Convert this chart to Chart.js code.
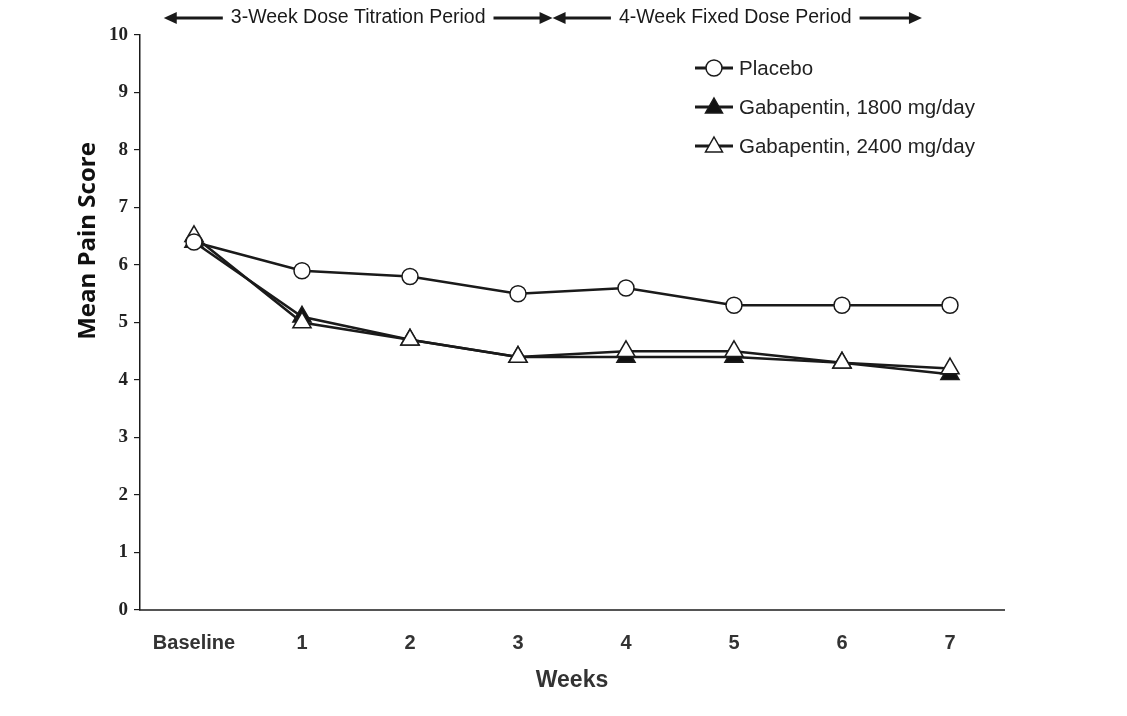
<!DOCTYPE html>
<html>
<head>
<meta charset="utf-8">
<script src="https://cdn.jsdelivr.net/npm/chart.js@4.4.1/dist/chart.umd.min.js"></script>
<style>
html,body{margin:0;padding:0;background:#fff;}
#wrap{width:1127px;height:716px;position:relative;}
</style>
</head>
<body>
<div id="wrap"><canvas id="c" width="1127" height="716"></canvas></div>
<script>
const categories = ["Baseline", "1", "2", "3", "4", "5", "6", "7"];
const placebo = [6.4, 5.9, 5.8, 5.5, 5.6, 5.3, 5.3, 5.3];
const gaba1800 = [6.4, 5.1, 4.7, 4.4, 4.4, 4.4, 4.3, 4.1];
const gaba2400 = [6.5, 5.0, 4.7, 4.4, 4.5, 4.5, 4.3, 4.2];
const seriesNames = ["Placebo", "Gabapentin, 1800 mg/day", "Gabapentin, 2400 mg/day"];
const yTicks = [0, 1, 2, 3, 4, 5, 6, 7, 8, 9, 10];
const periodLabels = ["3-Week Dose Titration Period", "4-Week Fixed Dose Period"];

const INK = '#1a1a1a';

function arrowHead(ctx, x, y, dir) {
  ctx.beginPath();
  ctx.moveTo(x, y);
  ctx.lineTo(x - dir * 13, y - 6);
  ctx.lineTo(x - dir * 13, y + 6);
  ctx.closePath();
  ctx.fill();
}
function dblArrowSeg(ctx, x1, x2, y, tx1, tx2) {
  ctx.lineWidth = 3;
  ctx.beginPath(); ctx.moveTo(x1 + 8, y); ctx.lineTo(tx1, y); ctx.stroke();
  ctx.beginPath(); ctx.moveTo(tx2, y); ctx.lineTo(x2 - 8, y); ctx.stroke();
  arrowHead(ctx, x1, y, -1);
  arrowHead(ctx, x2, y, 1);
}

const decor = {
  id: 'decor',
  afterDraw(chart) {
    const ctx = chart.ctx;
    const xs = chart.scales.x;
    const step = xs.getPixelForValue(1) - xs.getPixelForValue(0);
    ctx.save();
    ctx.fillStyle = INK; ctx.strokeStyle = INK;
    // period header
    const yH = 18;
    const a0 = xs.getPixelForValue(0) - step * 0.28;
    const a1 = xs.getPixelForValue(3) + step * 0.32;
    const a2 = xs.getPixelForValue(7) - step * 0.26;
    ctx.font = '19.5px "Liberation Sans", Arial, sans-serif';
    ctx.textBaseline = 'middle'; ctx.textAlign = 'center';
    const c1 = (a0 + a1) / 2, c2 = (a1 + a2) / 2 - 2;
    const w1 = ctx.measureText(periodLabels[0]).width;
    const w2 = ctx.measureText(periodLabels[1]).width;
    ctx.fillText(periodLabels[0], c1, yH);
    ctx.fillText(periodLabels[1], c2, yH);
    dblArrowSeg(ctx, a0, a1, yH, c1 - w1 / 2 - 8, c1 + w1 / 2 + 8);
    dblArrowSeg(ctx, a1, a2, yH, c2 - w2 / 2 - 8, c2 + w2 / 2 + 8);

    // y title
    ctx.save();
    ctx.translate(88, 241);
    ctx.rotate(-Math.PI / 2);
    ctx.font = 'bold 24px "Open Sans", "Liberation Sans", sans-serif';
    ctx.textAlign = 'center'; ctx.textBaseline = 'middle';
    ctx.fillStyle = '#111';
    ctx.fillText('Mean Pain Score', 0, 0);
    ctx.restore();

    // legend
    const lx = 695, lw = 38, rows = [68, 107, 146];
    chart.data.datasets.forEach((ds, i) => {
      const y = rows[i];
      ctx.lineWidth = 3; ctx.strokeStyle = INK;
      ctx.beginPath(); ctx.moveTo(lx, y); ctx.lineTo(lx + lw, y); ctx.stroke();
      const cx = lx + lw / 2;
      ctx.lineWidth = 1.5;
      ctx.fillStyle = ds.pointBackgroundColor;
      ctx.beginPath();
      if (ds.pointStyle === 'circle') {
        ctx.arc(cx, y, 8, 0, Math.PI * 2);
      } else {
        ctx.moveTo(cx, y - 9); ctx.lineTo(cx + 8.5, y + 6); ctx.lineTo(cx - 8.5, y + 6); ctx.closePath();
      }
      ctx.fill(); ctx.stroke();
      ctx.fillStyle = '#222';
      ctx.font = '20.5px "Liberation Sans", Arial, sans-serif';
      ctx.textAlign = 'left'; ctx.textBaseline = 'middle';
      ctx.fillText(ds.label, lx + lw + 6, y + 1);
    });
    ctx.restore();
  }
};

const mk = (label, data, style, fill, order) => ({
  label, data, order,
  borderColor: INK, borderWidth: 2.5,
  pointStyle: style, pointRadius: style === 'circle' ? 8 : 10.5,
  pointBorderWidth: 1.5, pointBorderColor: INK,
  pointBackgroundColor: fill, tension: 0, fill: false
});

new Chart(document.getElementById('c'), {
  type: 'line',
  data: {
    labels: categories,
    datasets: [
      mk(seriesNames[0], placebo, 'circle', '#ffffff', 0),
      mk(seriesNames[1], gaba1800, 'triangle', '#111111', 2),
      mk(seriesNames[2], gaba2400, 'triangle', '#ffffff', 1)
    ]
  },
  options: {
    responsive: false,
    animation: false,
    devicePixelRatio: 1,
    layout: { padding: { top: 35, right: 123, left: 0, bottom: 0 } },
    plugins: { legend: { display: false }, tooltip: { enabled: false } },
    scales: {
      x: {
        type: 'category',
        offset: true,
        grid: { display: false },
        border: { display: true, color: '#555', width: 2 },
        ticks: {
          padding: 13,
          color: '#333',
          font: { family: '"Liberation Sans", Arial, sans-serif', size: 20, weight: 'bold' }
        },
        title: {
          display: true, text: 'Weeks', color: '#333',
          font: { family: '"Liberation Sans", Arial, sans-serif', size: 23, weight: 'bold' },
          padding: { top: 0, bottom: 22 }
        },
        afterFit(s) { s.height = 106; }
      },
      y: {
        min: 0, max: 10,
        afterBuildTicks(s) { s.ticks = yTicks.map(v => ({ value: v })); },
        grid: { drawOnChartArea: false, drawTicks: true, tickLength: 6, color: INK, lineWidth: 1.2 },
        border: { display: true, color: INK, width: 1.5 },
        ticks: {
          padding: 6,
          color: '#222',
          font: { family: '"Liberation Serif", "Times New Roman", serif', size: 19, weight: 'bold' }
        },
        afterFit(s) { s.width = 140; }
      }
    }
  },
  plugins: [decor]
});
</script>
</body>
</html>
